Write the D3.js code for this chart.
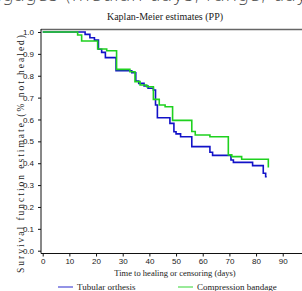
<!DOCTYPE html>
<html>
<head>
<meta charset="utf-8">
<script src="https://cdn.jsdelivr.net/npm/d3@7"></script>
<style>
  body { margin: 0; background: #fff; }
  svg { display: block; font-family: "Liberation Serif", "DejaVu Serif", serif; }
</style>
</head>
<body>
<div id="chart"></div>
<script>
const xTicks = [0, 10, 20, 30, 40, 50, 60, 70, 80, 90];
const yTicks = [0, 0.1, 0.2, 0.3, 0.4, 0.5, 0.6, 0.7, 0.8, 0.9, 1.0];

const seriesNames = ["Tubular orthesis", "Compression bandage"];

// step points: [day, survival]
const tubular = [
  [0, 1.0], [15.9, 0.989], [17.7, 0.974], [19.4, 0.963], [20.9, 0.921],
  [22.1, 0.907], [23.5, 0.883], [27.5, 0.823], [33.4, 0.814], [34.9, 0.776],
  [36.0, 0.765], [38.0, 0.753], [39.5, 0.743], [41.5, 0.735], [42.3, 0.666],
  [43.0, 0.608], [47.7, 0.582], [49.2, 0.544], [50.0, 0.534], [51.7, 0.521],
  [55.9, 0.476], [62.7, 0.450], [63.7, 0.436], [70.6, 0.415], [71.5, 0.404],
  [78.7, 0.389], [82.7, 0.354], [83.6, 0.338], [84.0, 0.338]
];
const compression = [
  [0, 1.0], [13.1, 0.986], [14.6, 0.959], [20.6, 0.922], [24.0, 0.914],
  [27.7, 0.829], [32.7, 0.818], [34.6, 0.773], [36.5, 0.758], [39.0, 0.750],
  [41.5, 0.692], [43.7, 0.666], [45.9, 0.658], [48.7, 0.596], [55.9, 0.545],
  [57.2, 0.529], [62.7, 0.521], [69.6, 0.438], [70.9, 0.430], [74.6, 0.418],
  [84.6, 0.381]
];

const width = 302, height = 291;

const svg = d3.select("#chart").append("svg")
  .attr("width", width)
  .attr("height", height);

const x = d3.scaleLinear().domain([0, 97]).range([42.7, 301.4]);
const y = d3.scaleLinear().domain([0, 1]).range([250.7, 32]);

// heading of the page above, mostly cropped away in the reference
svg.append("text")
  .attr("x", -10).attr("y", 1)
  .attr("font-family", "DejaVu Sans, sans-serif")
  .attr("font-size", 19)
  .attr("font-weight", 300)
  .attr("fill", "#444")
  .text("ngages (median days, range, days)");

svg.append("text")
  .attr("x", 165).attr("y", 20)
  .attr("text-anchor", "middle")
  .attr("font-size", 10)
  .attr("fill", "#222")
  .text("Kaplan-Meier estimates (PP)");

// frame
svg.append("path")
  .attr("d", `M41,29.5H302`)
  .attr("stroke", "#666").attr("stroke-width", 1.5).attr("fill", "none");
svg.append("path")
  .attr("d", `M41,29V253.5H302`)
  .attr("stroke", "#111").attr("stroke-width", 1).attr("fill", "none");

const yAxis = svg.append("g")
  .attr("transform", "translate(41,0)")
  .call(d3.axisLeft(y).tickValues(yTicks).tickSize(3).tickSizeOuter(0)
    .tickFormat(d3.format(".1f")));
yAxis.select(".domain").remove();
yAxis.selectAll("text").attr("font-size", 8).attr("font-family", null).attr("fill", "#222").attr("dx", "-1");
yAxis.selectAll("line").attr("stroke", "#111");

const xAxis = svg.append("g")
  .attr("transform", "translate(0,253.5)")
  .call(d3.axisBottom(x).tickValues(xTicks).tickSize(3).tickSizeOuter(0));
xAxis.select(".domain").remove();
xAxis.selectAll("text").attr("font-size", 8).attr("font-family", null).attr("fill", "#222").attr("dy", "0.6em");
xAxis.selectAll("line").attr("stroke", "#111");

svg.append("text")
  .attr("x", 175).attr("y", 276)
  .attr("text-anchor", "middle")
  .attr("font-size", 8.5)
  .attr("fill", "#222")
  .text("Time to healing or censoring (days)");

svg.append("text")
  .attr("transform", "translate(24,154) rotate(-90)")
  .attr("text-anchor", "middle")
  .attr("font-size", 9.5)
  .attr("fill", "#222")
  .attr("textLength", 238)
  .attr("lengthAdjust", "spacing")
  .text("Survival function estimate (% not healed)");

const line = d3.line()
  .x(d => x(d[0]))
  .y(d => y(d[1]))
  .curve(d3.curveStepAfter);

const colors = ["#1212c8", "#1fd11f"];

[tubular, compression].forEach((s, i) => {
  svg.append("path")
    .datum(s)
    .attr("fill", "none")
    .attr("stroke", colors[i])
    .attr("stroke-width", 1.6)
    .attr("d", line);
});

// legend
const legendX = [58, 178];
seriesNames.forEach((name, i) => {
  svg.append("line")
    .attr("x1", legendX[i]).attr("x2", legendX[i] + 15)
    .attr("y1", 287).attr("y2", 287)
    .attr("stroke", colors[i]).attr("stroke-width", 1.2).attr("opacity", 0.75);
  svg.append("text")
    .attr("x", legendX[i] + 19).attr("y", 290)
    .attr("font-size", 9)
    .attr("fill", "#222")
    .text(name);
});
</script>
</body>
</html>
